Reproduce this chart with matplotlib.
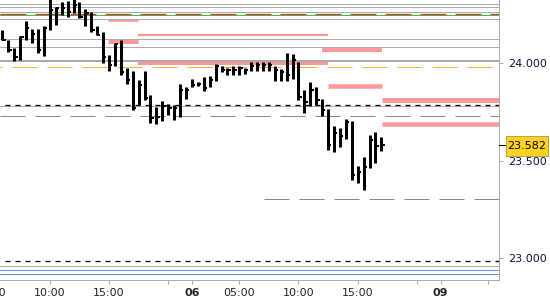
import numpy as np
import matplotlib.pyplot as plt
from matplotlib.patches import Rectangle
from matplotlib.transforms import blended_transform_factory

plt.rcParams['lines.scale_dashes'] = False
plt.rcParams['font.family'] = 'DejaVu Sans'

# 30 minute bars
highs = [24.171, 24.119, 24.078, 24.140, 24.217, 24.176, 24.176, 24.191, 24.340, 24.289,
         24.314, 24.319, 24.330, 24.314, 24.278, 24.263, 24.191, 24.160, 24.043, 24.104,
         24.119, 23.976, 23.961, 23.914, 23.961, 23.838, 23.776, 23.807, 23.791, 23.786,
         23.894, 23.878, 23.920, 23.904, 23.930, 23.935, 23.996, 23.986, 23.976, 23.986,
         23.986, 23.976, 24.007, 24.007, 24.007, 24.007, 23.986, 23.971, 24.053, 24.048,
         24.007, 23.863, 23.904, 23.878, 23.817, 23.766, 23.681, 23.670, 23.714, 23.704,
         23.473, 23.520, 23.632, 23.648, 23.622]
lows = [24.119, 24.058, 24.012, 24.017, 24.119, 24.104, 24.053, 24.037, 24.171, 24.196,
        24.248, 24.237, 24.258, 24.232, 24.191, 24.160, 24.145, 24.002, 23.961, 23.986,
        23.940, 23.894, 23.760, 23.786, 23.812, 23.694, 23.689, 23.704, 23.735, 23.709,
        23.725, 23.817, 23.878, 23.883, 23.858, 23.878, 23.909, 23.955, 23.940, 23.940,
        23.940, 23.945, 23.961, 23.961, 23.961, 23.961, 23.909, 23.909, 23.909, 23.920,
        23.812, 23.745, 23.781, 23.786, 23.730, 23.555, 23.545, 23.571, 23.612, 23.402,
        23.387, 23.350, 23.463, 23.489, 23.550]
closes = [24.119, 24.068, 24.032, 24.135, 24.181, 24.150, 24.068, 24.181, 24.273, 24.284,
          24.284, 24.263, 24.299, 24.237, 24.258, 24.171, 24.145, 24.032, 23.991, 24.099,
          23.955, 23.914, 23.771, 23.889, 23.822, 23.719, 23.725, 23.781, 23.771, 23.771,
          23.863, 23.863, 23.889, 23.894, 23.873, 23.914, 23.986, 23.966, 23.966, 23.966,
          23.976, 23.966, 23.986, 23.991, 23.991, 23.991, 23.966, 23.955, 23.940, 24.017,
          23.827, 23.802, 23.863, 23.812, 23.760, 23.581, 23.643, 23.627, 23.699, 23.427,
          23.443, 23.468, 23.607, 23.576, 23.582]
last_price = 23.582

# supply / demand zones
zone_start = [17.8, 17.8, 22.9, 22.9, 54.0, 55.0, 64.1, 64.1]
zone_end = [22.9, 22.9, 55.0, 55.0, 64.1, 64.1, 84.0, 84.0]
zone_price = [24.222, 24.117, 24.143, 24.000, 24.070, 23.886, 23.811, 23.689]
zone_weight = [2.7, 5.0, 2.3, 4.0, 4.0, 4.5, 5.0, 4.5]

# horizontal levels
gray_levels = [24.303, 24.290, 24.263, 24.227, 24.123, 24.082, 23.781, 22.961]
gray_strong = 24.012
red_level = 24.251
green_level = 24.246
orange_level = 23.979
black_levels = [23.786, 22.986]
gray_dash_level = 23.730
gray_dash_level2 = 23.304
gray_dash2_start = 44.2
blue_levels = [22.940, 22.920]

tick_pos = [8, 18, 28, 32, 40, 50, 60, 70, 74, 82]
tick_labels = ['10:00', '15:00', '', '06', '05:00', '10:00', '15:00', '', '09', '']
y_ticks = [23.0, 23.5, 24.0]

PX = 0.72  # points per pixel at 100 dpi

fig = plt.figure(figsize=(5.5, 3), dpi=100)
ax = fig.add_axes([0, 20 / 300, 499 / 550, 280 / 300])
ax.set_xlim(-0.42, 83.87)
ax.set_ylim(22.889, 24.325)

x = np.arange(len(highs))

# zones
for s, e, p, w in zip(zone_start, zone_end, zone_price, zone_weight):
    ax.hlines(p, s, e, color='#ff9999', lw=w * PX, zorder=1)

# levels
for lv in gray_levels:
    ax.axhline(lv, color='#aaaaaa', lw=1 * PX, zorder=2)
ax.axhline(gray_strong, color='#aaaaaa', lw=2 * PX, zorder=2)
ax.axhline(red_level, color='#e03030', lw=1.3 * PX, ls=(0, (26 * PX, 9 * PX)), zorder=2)
ax.axhline(green_level, color='#44bb44', lw=1 * PX, zorder=2)
ax.axhline(orange_level, color='#f2b040', lw=1 * PX, ls=(23 * PX, (25 * PX, 10 * PX)), zorder=2)
for lv in black_levels:
    ax.axhline(lv, color='black', lw=1.3 * PX, ls=(5 * PX, (5 * PX, 5 * PX)), zorder=2)
ax.axhline(gray_dash_level, color='#888888', lw=1 * PX, ls=(0, (25 * PX, 10 * PX)), zorder=2)
ax.hlines(gray_dash_level2, gray_dash2_start, 84, color='#888888', lw=1 * PX,
          linestyles=[(0, (25 * PX, 10 * PX))], zorder=2)
for lv in blue_levels:
    ax.axhline(lv, color='#6699ff', lw=1 * PX, zorder=2)

# bars
ax.vlines(x, lows, highs, color='black', lw=3 * PX, zorder=3)
ax.hlines(closes, x, x + 0.55, color='black', lw=2 * PX, zorder=3)

# axes styling
for side in ['left', 'top']:
    ax.spines[side].set_visible(False)
for side in ['right', 'bottom']:
    ax.spines[side].set_color('#aaaaaa')
    ax.spines[side].set_linewidth(1 * PX)

ax.yaxis.tick_right()
ax.set_yticks(y_ticks)
ax.set_yticklabels(['%.3f' % v for v in y_ticks])
ax.tick_params(axis='y', length=4 * PX, width=1 * PX, color='#aaaaaa', pad=5 * PX,
               labelsize=8, labelcolor='#10103a')
ax.set_xticks(tick_pos)
ax.set_xticklabels(tick_labels)
for lab in ax.get_xticklabels():
    if lab.get_text() in ('06', '09'):
        lab.set_fontweight('bold')
ax.tick_params(axis='x', length=3.5 * PX, width=1 * PX, color='#aaaaaa', pad=3,
               labelsize=8, labelcolor='#222222')

# cut-off label at left edge
trans_x = blended_transform_factory(ax.transData, ax.transAxes)
ax.text(-2.1, -(3.5 * PX + 3) / (280 * PX), '05:00', transform=trans_x, ha='center',
        va='top', fontsize=8, color='#222222', clip_on=False)

# last price marker
trans_y = blended_transform_factory(ax.transAxes, ax.transData)
ax.plot([1.0, 1.012], [last_price, last_price], color='black', lw=1 * PX,
        transform=trans_y, clip_on=False, zorder=9)
box = Rectangle((506 / 550, 1 - 156 / 300), 42 / 550, 20 / 300, transform=fig.transFigure,
                facecolor='#ffd21f', edgecolor='#b8a050', lw=0.7, zorder=10)
fig.add_artist(box)
fig.text(527 / 550, 1 - 146 / 300, '%.3f' % last_price, ha='center', va='center',
         fontsize=8, color='black', zorder=11)

fig.savefig('out.png', dpi=100)
